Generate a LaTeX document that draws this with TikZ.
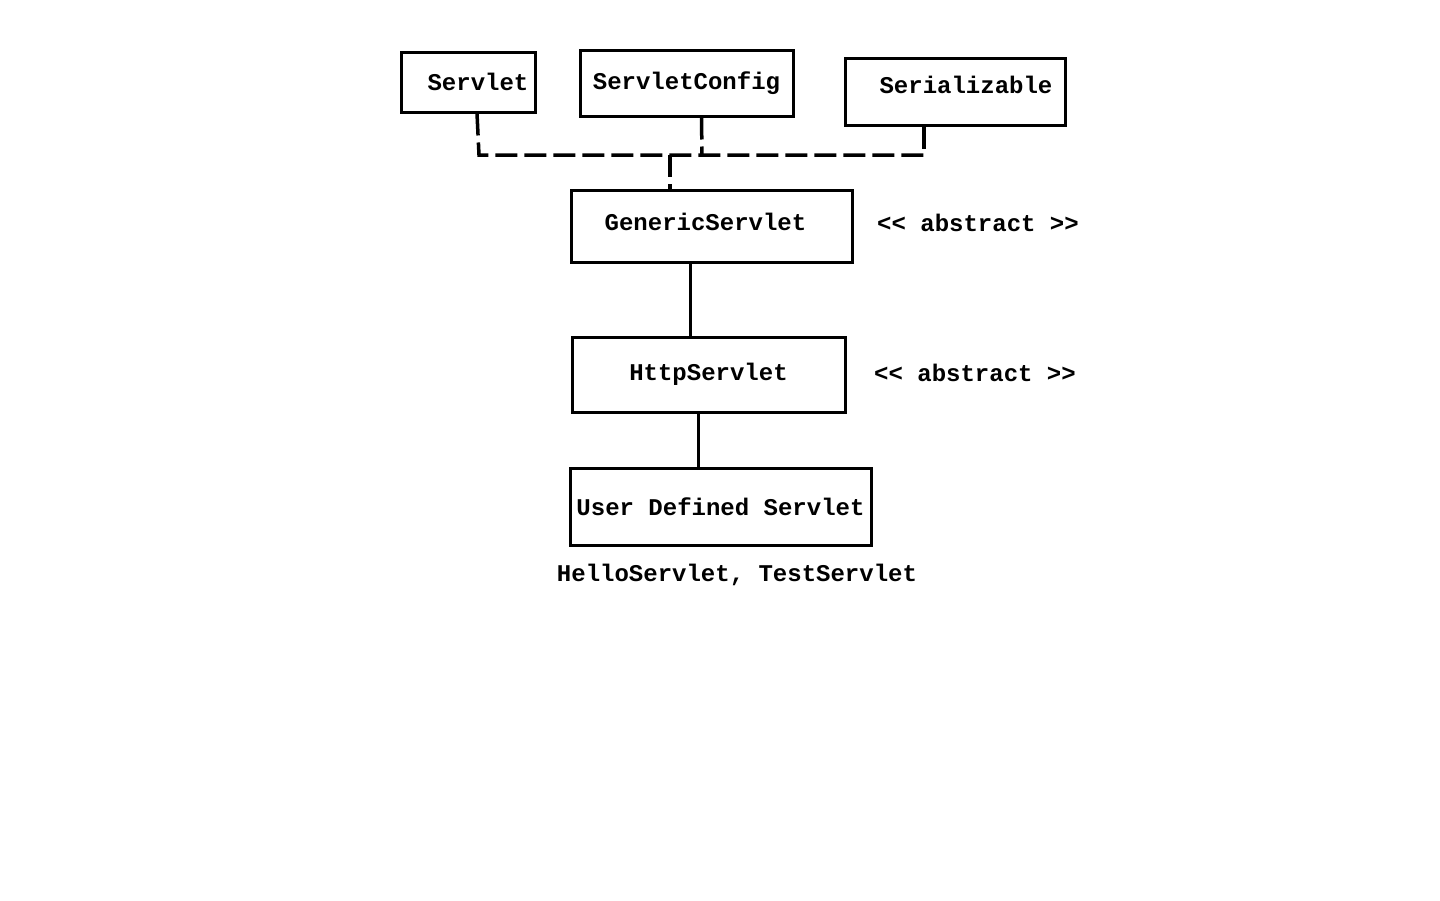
\documentclass[tikz,border=0pt]{standalone}
\usepackage{fontspec}
\setmainfont{Liberation Mono}[Ligatures=TeXOff]
\begin{document}
\begin{tikzpicture}[x=1pt,y=-1pt,
  box/.style={draw=black,line width=3pt,inner sep=0pt,font=\fontsize{24pt}{28pt}\selectfont\bfseries},
  lbl/.style={inner sep=0pt,font=\fontsize{24pt}{28pt}\selectfont\bfseries},
  dash line/.style={line width=3.5pt,dash pattern=on 22pt off 7pt},
  solid line/.style={line width=3pt}]
\useasboundingbox[fill=white] (0,0) rectangle (1440,900);
\node[box,minimum width=134pt,minimum height=60pt] (servlet) at (468,82) {\hspace{20pt}Servlet};
\node[box,minimum width=213pt,minimum height=66pt] (config) at (686.5,83) {ServletConfig};
\node[box,minimum width=220pt,minimum height=67pt] (serial) at (955,91.5) {\raisebox{13pt}{\hspace{22pt}Serializable}};
\node[box,minimum width=281pt,minimum height=72pt] (generic) at (711.5,226) {\raisebox{8pt}{GenericServlet\hspace{12pt}}};
\node[box,minimum width=273pt,minimum height=75pt] (http) at (708.5,374.5) {HttpServlet\hspace{6pt}};
\node[box,minimum width=301pt,minimum height=77pt] (user) at (720.5,506.5) {User Defined Servlet};
\node[lbl] (abs1) at (978,223) {<< abstract >>};
\node[lbl] (abs2) at (975,373) {<< abstract >>};
\node[lbl] (names) at (737,575) {HelloServlet, TestServlet};
\coordinate (j1) at (479,155);
\coordinate (j2) at (702,155);
\coordinate (j3) at (924,155);
\coordinate (j0) at (670,155);
\draw[dash line] ([xshift=9pt]servlet.south) -- (j1) -- (j3);
\draw[dash line] ([xshift=15pt]config.south) -- (j2);
\draw[dash line] ([xshift=-31pt]serial.south) -- (j3);
\draw[dash line] (j0) -- (j0 |- generic.north);
\draw[solid line] ([xshift=-21pt]generic.south) -- ([xshift=-21pt]generic.south |- http.north);
\draw[solid line] ([xshift=-10pt]http.south) -- ([xshift=-10pt]http.south |- user.north);
\end{tikzpicture}
\end{document}
